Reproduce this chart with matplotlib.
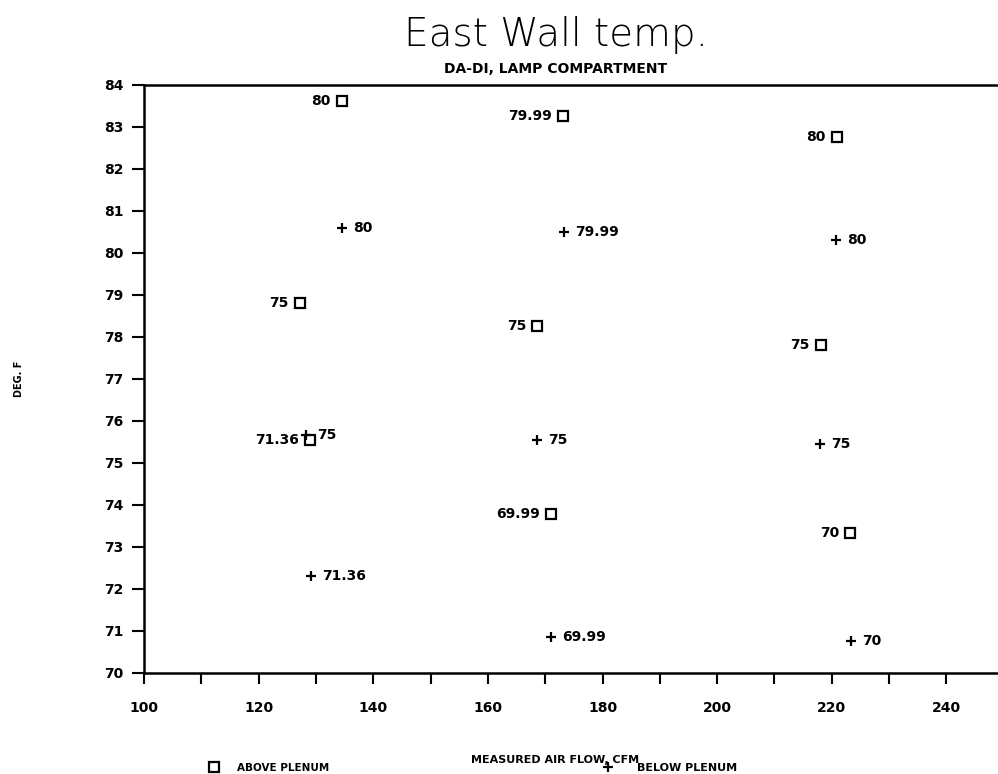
import matplotlib
matplotlib.use("Agg")
import matplotlib.pyplot as plt
from matplotlib.ticker import MultipleLocator
from matplotlib.lines import Line2D

# above plenum (square markers)
above_x = [134.5, 173.1, 220.9, 127.2, 168.6, 218.1, 128.9, 171.0, 223.2]
above_y = [83.63, 83.25, 82.77, 78.81, 78.26, 77.81, 75.55, 73.79, 73.34]
above_lbl = ["80", "79.99", "80", "75", "75", "75", "71.36", "69.99", "70"]

# below plenum (plus markers)
below_x = [134.5, 173.3, 220.7, 128.3, 168.6, 218.0, 129.1, 171.0, 223.4]
below_y = [80.60, 80.49, 80.31, 75.67, 75.55, 75.45, 72.31, 70.85, 70.75]
below_lbl = ["80", "79.99", "80", "75", "75", "75", "71.36", "69.99", "70"]

fig = plt.figure(figsize=(9.98, 7.74), dpi=100)
ax = fig.add_axes([0.1443, 0.1305, 0.8557, 0.7597])

ax.plot(above_x, above_y, ls="none", marker="s", ms=7.5, mfc="white", mec="black", mew=1.6)
ax.plot(below_x, below_y, ls="none", marker="+", ms=7.5, color="black", mew=1.6)

for x, y, t in zip(above_x, above_y, above_lbl):
    ax.annotate(t, (x, y), xytext=(-8, 0), textcoords="offset points",
                ha="right", va="center", fontsize=10, fontweight="bold")
for x, y, t in zip(below_x, below_y, below_lbl):
    ax.annotate(t, (x, y), xytext=(8, 0), textcoords="offset points",
                ha="left", va="center", fontsize=10, fontweight="bold")

ax.set_xlim(100, 249)
ax.set_ylim(70, 84)
ax.xaxis.set_major_locator(MultipleLocator(20))
ax.xaxis.set_minor_locator(MultipleLocator(10))
ax.yaxis.set_major_locator(MultipleLocator(1))
ax.tick_params(axis="both", which="both", direction="out", width=1.5, color="black")
ax.tick_params(axis="y", length=9, pad=6, labelsize=10)
ax.tick_params(axis="x", which="both", length=8, pad=12, labelsize=10)
for lab in ax.get_xticklabels() + ax.get_yticklabels():
    lab.set_fontweight("bold")

for s in ["left", "bottom", "top"]:
    ax.spines[s].set_linewidth(1.8)
ax.spines["right"].set_visible(False)

ax.set_xlabel("MEASURED AIR FLOW, CFM", fontsize=8, fontweight="bold")
ax.xaxis.set_label_coords(0.481, -0.139)
ax.set_ylabel("DEG. F", fontsize=7, fontweight="bold")
ax.yaxis.set_label_coords(-0.141, 0.5)

fig.text(0.557, 0.955, "East Wall temp.", ha="center", va="center", fontsize=28,
         color="black", fontweight="light")
fig.text(0.557, 0.911, "DA-DI, LAMP COMPARTMENT", ha="center", va="center",
         fontsize=10, fontweight="bold")

h_above = Line2D([], [], ls="none", marker="s", ms=6.5, mfc="white", mec="black", mew=1.6)
h_below = Line2D([], [], ls="none", marker="+", ms=7, color="black", mew=1.6)
fig.legend([h_above], ["ABOVE PLENUM"], loc="center left", bbox_to_anchor=(0.195, 0.008),
           frameon=False, handletextpad=1.2, prop={"size": 7.5, "weight": "bold"})
fig.legend([h_below], ["BELOW PLENUM"], loc="center left", bbox_to_anchor=(0.588, 0.008),
           frameon=False, handletextpad=1.6, prop={"size": 8, "weight": "bold"})

fig.savefig("out.png", dpi=100)
